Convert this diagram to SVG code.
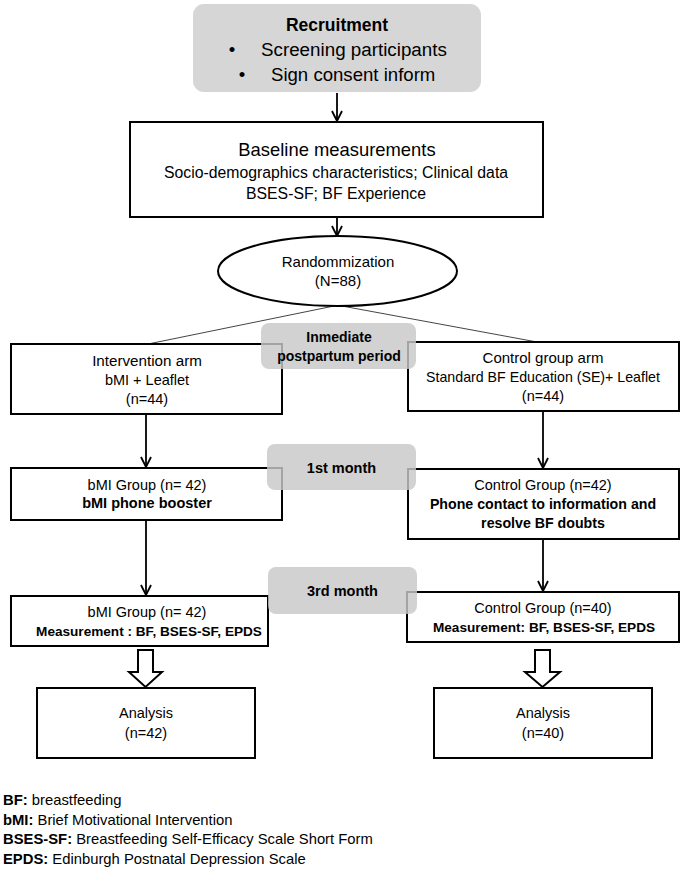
<svg xmlns="http://www.w3.org/2000/svg" width="685" height="873" viewBox="0 0 685 873">
<style>
text{font-family:"Liberation Sans",Arial,sans-serif;fill:#000;}
.c{text-anchor:middle;}
.b{font-weight:bold;}
.box{fill:#fff;stroke:#000;stroke-width:2;}
.grey{fill:#d6d6d6;stroke:none;}
.lbl{fill:#c8c8c8;fill-opacity:0.82;stroke:none;}
.f14{font-size:14.5px;}
.m{font-size:13.6px;font-weight:bold;}
.conn{stroke:#000;stroke-width:1.8;fill:none;}
.thin{stroke:#444;stroke-width:1;fill:none;}
.blk{fill:#fff;stroke:#000;stroke-width:2;stroke-linejoin:miter;}
</style>
<defs>
<marker id="arr" viewBox="0 0 12 12" refX="11" refY="6" markerWidth="12" markerHeight="12" markerUnits="userSpaceOnUse" orient="auto">
<path d="M1,1 L11,6 L1,11" fill="none" stroke="#000" stroke-width="1.8"/>
</marker>
</defs>
<rect width="685" height="873" fill="#fff"/>

<g id="connectors">
<line class="conn" x1="337" y1="93" x2="337" y2="121" marker-end="url(#arr)"/>
<line class="conn" x1="337" y1="218" x2="337" y2="236" marker-end="url(#arr)"/>
<line class="thin" x1="334" y1="306" x2="148" y2="344"/>
<line class="thin" x1="342" y1="306" x2="537" y2="342"/>
<line class="conn" x1="146" y1="415" x2="146" y2="467" marker-end="url(#arr)"/>
<line class="conn" x1="543" y1="412" x2="543" y2="468" marker-end="url(#arr)"/>
<line class="conn" x1="146" y1="521" x2="146" y2="595" marker-end="url(#arr)"/>
<line class="conn" x1="543" y1="540" x2="543" y2="591" marker-end="url(#arr)"/>
<polygon class="blk" points="138,650 153,650 153,672 162,672 145.5,687 129,672 138,672"/>
<polygon class="blk" points="535,650 550,650 550,672 560,672 542.5,687 525,672 535,672"/>
</g>

<g id="recruitment">
<rect class="grey" x="193" y="4" width="288" height="88" rx="11"/>
<text class="c b" x="337" y="31" style="font-size:17.5px">Recruitment</text>
<text x="232" y="56" class="c" style="font-size:18.6px">•</text>
<text x="261" y="56" style="font-size:18.8px">Screening participants</text>
<text x="242" y="81" class="c" style="font-size:18.6px">•</text>
<text x="271" y="81" style="font-size:18.6px">Sign consent inform</text>
</g>

<g id="baseline">
<rect class="box" x="130" y="122" width="413" height="95"/>
<text class="c" x="337" y="156" style="font-size:18.4px">Baseline measurements</text>
<text class="c" x="336" y="178" style="font-size:15.8px">Socio-demographics characteristics; Clinical data</text>
<text class="c" x="336" y="199" style="font-size:15.8px">BSES-SF; BF Experience</text>
</g>

<g id="randomization">
<ellipse cx="337.5" cy="271" rx="119.5" ry="35" fill="#fff" stroke="#000" stroke-width="2"/>
<text class="c" x="338" y="267" style="font-size:15px">Randommization</text>
<text class="c" x="338" y="286" style="font-size:15px">(N=88)</text>
</g>

<g id="intervention-arm">
<rect class="box" x="11" y="344" width="271" height="70"/>
<text class="c" x="147" y="366" style="font-size:15.2px">Intervention arm</text>
<text class="c f14" x="147" y="385">bMI + Leaflet</text>
<text class="c f14" x="147" y="404">(n=44)</text>
</g>

<g id="control-arm">
<rect class="box" x="408" y="342" width="271" height="69"/>
<text class="c" x="543" y="363" style="font-size:15px">Control group arm</text>
<text class="c" x="543" y="382" style="font-size:14.2px">Standard BF Education (SE)+ Leaflet</text>
<text class="c f14" x="543" y="401">(n=44)</text>
</g>

<g id="bmi-1month">
<rect class="box" x="11" y="468" width="271" height="52"/>
<text class="c f14" x="147" y="490">bMI Group (n= 42)</text>
<text class="c f14 b" x="147" y="508">bMI phone booster</text>
</g>

<g id="control-1month">
<rect class="box" x="408" y="469" width="271" height="70"/>
<text class="c f14" x="543" y="490">Control Group (n=42)</text>
<text class="c b" x="543" y="509" style="font-size:14.2px">Phone contact to information and</text>
<text class="c b" x="543" y="528" style="font-size:14.2px">resolve BF doubts</text>
</g>

<g id="bmi-3month">
<rect class="box" x="11" y="596" width="257" height="50"/>
<text class="c f14" x="147" y="617">bMI Group (n= 42)</text>
<text class="c m" x="149" y="636">Measurement : BF, BSES-SF, EPDS</text>
</g>

<g id="control-3month">
<rect class="box" x="407" y="592" width="272" height="50"/>
<text class="c f14" x="543" y="613">Control Group (n=40)</text>
<text class="c m" x="544" y="632">Measurement: BF, BSES-SF, EPDS</text>
</g>

<g id="analysis-left">
<rect class="box" x="37" y="688" width="218" height="70"/>
<text class="c f14" x="146" y="718">Analysis</text>
<text class="c f14" x="146" y="738">(n=42)</text>
</g>

<g id="analysis-right">
<rect class="box" x="434" y="688" width="218" height="70"/>
<text class="c f14" x="543" y="718">Analysis</text>
<text class="c f14" x="543" y="738">(n=40)</text>
</g>

<g id="label-postpartum">
<rect class="lbl" x="261" y="323" width="155" height="46" rx="8"/>
<text class="c b" x="339" y="342" style="font-size:14px">Inmediate</text>
<text class="c b" x="339" y="361" style="font-size:14px">postpartum period</text>
</g>

<g id="label-1st">
<rect class="lbl" x="267" y="444" width="149" height="46" rx="8"/>
<text class="c b" x="341.5" y="473" style="font-size:14.5px">1st month</text>
</g>

<g id="label-3rd">
<rect class="lbl" x="268" y="567" width="149" height="47" rx="8"/>
<text class="c b" x="342.5" y="596" style="font-size:14.5px">3rd month</text>
</g>

<g id="legend" style="font-size:14.8px">
<text x="3" y="805"><tspan class="b">BF:</tspan> breastfeeding</text>
<text x="3" y="825"><tspan class="b">bMI:</tspan> Brief Motivational Intervention</text>
<text x="3" y="844"><tspan class="b">BSES-SF:</tspan> Breastfeeding Self-Efficacy Scale Short Form</text>
<text x="3" y="864"><tspan class="b">EPDS:</tspan> Edinburgh Postnatal Depression Scale</text>
</g>
</svg>
